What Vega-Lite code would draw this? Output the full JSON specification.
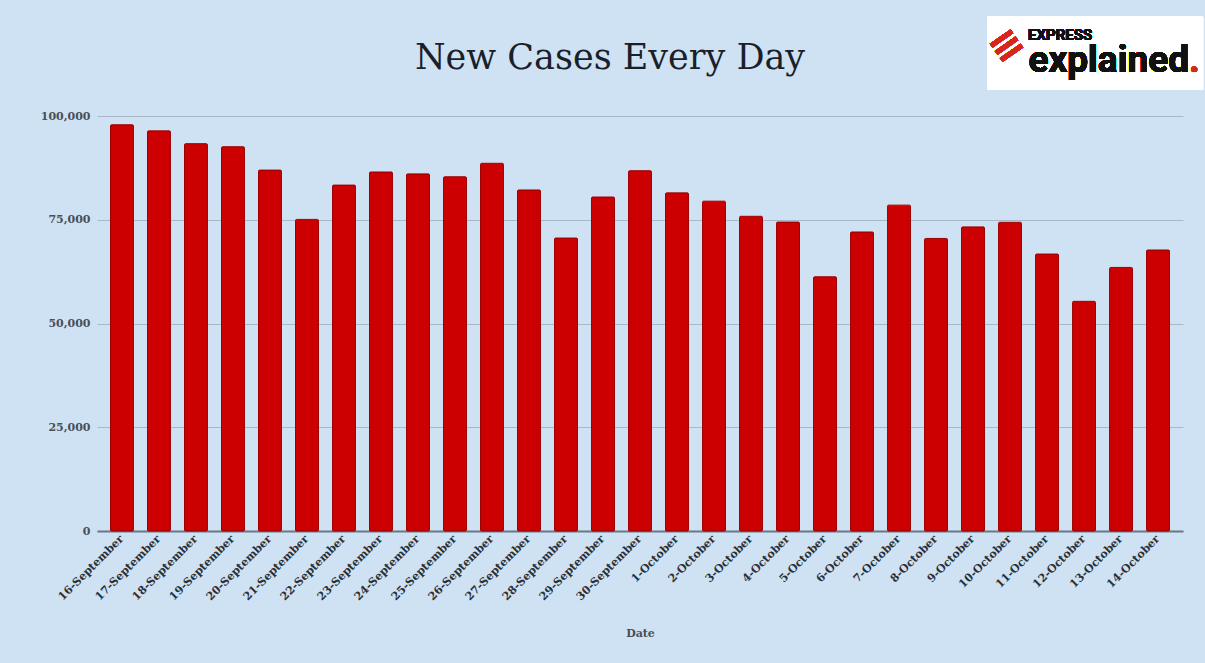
{
  "$schema": "https://vega.github.io/schema/vega-lite/v6.json",
  "autosize": {"type": "none"},
  "width": 1086,
  "height": 415,
  "padding": {"left": 97, "top": 116, "right": 22, "bottom": 132},
  "background": "#cfe2f3",
  "config": {
    "view": {"stroke": null},
    "font": "DejaVu Serif"
  },
  "title": {
    "text": "New Cases Every Day",
    "font": "DejaVu Serif",
    "fontSize": 35,
    "fontWeight": "normal",
    "color": "#1a1f2a",
    "anchor": "middle",
    "offset": 33,
    "dx": -30,
    "dy": 92
  },
  "data": {
    "values": [
      {"date": "16-September", "cases": 97894},
      {"date": "17-September", "cases": 96424},
      {"date": "18-September", "cases": 93337},
      {"date": "19-September", "cases": 92605},
      {"date": "20-September", "cases": 86961},
      {"date": "21-September", "cases": 75083},
      {"date": "22-September", "cases": 83347},
      {"date": "23-September", "cases": 86508},
      {"date": "24-September", "cases": 86052},
      {"date": "25-September", "cases": 85362},
      {"date": "26-September", "cases": 88600},
      {"date": "27-September", "cases": 82170},
      {"date": "28-September", "cases": 70589},
      {"date": "29-September", "cases": 80472},
      {"date": "30-September", "cases": 86821},
      {"date": "1-October", "cases": 81484},
      {"date": "2-October", "cases": 79476},
      {"date": "3-October", "cases": 75829},
      {"date": "4-October", "cases": 74442},
      {"date": "5-October", "cases": 61267},
      {"date": "6-October", "cases": 72049},
      {"date": "7-October", "cases": 78524},
      {"date": "8-October", "cases": 70496},
      {"date": "9-October", "cases": 73272},
      {"date": "10-October", "cases": 74383},
      {"date": "11-October", "cases": 66732},
      {"date": "12-October", "cases": 55342},
      {"date": "13-October", "cases": 63509},
      {"date": "14-October", "cases": 67708}
    ]
  },
  "encoding": {
    "x": {
      "field": "date",
      "type": "nominal",
      "sort": null,
      "scale": {"paddingInner": 0.38, "paddingOuter": 0.365},
      "axis": {
        "title": "Date",
        "titleFont": "DejaVu Serif",
        "titleFontSize": 11,
        "titleFontWeight": "bold",
        "titleColor": "#4a4f57",
        "titlePadding": 26,
        "labelAngle": -45,
        "labelAlign": "right",
        "labelBaseline": "middle",
        "labelFont": "DejaVu Serif",
        "labelFontSize": 11,
        "labelFontWeight": "bold",
        "labelColor": "#2b2f36",
        "labelPadding": 6,
        "ticks": false,
        "domainColor": "#6b7785",
        "domainWidth": 2,
        "grid": false
      }
    },
    "y": {
      "field": "cases",
      "type": "quantitative",
      "scale": {"domain": [0, 100000], "nice": false},
      "axis": {
        "title": null,
        "values": [0, 25000, 50000, 75000, 100000],
        "format": ",d",
        "labelFont": "DejaVu Serif",
        "labelFontSize": 11,
        "labelFontWeight": "bold",
        "labelColor": "#4a4f57",
        "labelPadding": 7,
        "ticks": false,
        "domain": false,
        "grid": true,
        "gridColor": "#a9b8c8",
        "gridWidth": 1.2
      }
    }
  },
  "layer": [
    {
      "mark": {"type": "bar", "color": "#cc0000", "stroke": "#9e0000", "strokeWidth": 1, "cornerRadius": 1}
    },
    {
      "mark": {
        "type": "point",
        "shape": "M-1.24,-0.338L0.76,-0.338L0.76,0.338L-1.24,0.338Z",
        "size": 46656,
        "filled": true,
        "color": "#ffffff",
        "opacity": 1,
        "strokeWidth": 0
      },
      "encoding": {
        "x": {"datum": "13-October"},
        "y": {"datum": 115100}
      }
    },
    {
      "mark": {"type": "text", "text": "≡", "font": "DejaVu Sans", "fontSize": 40, "fontWeight": "bold", "color": "#d7261e", "angle": -35, "align": "center", "baseline": "middle", "dx": -4},
      "encoding": {
        "x": {"datum": "10-October"},
        "y": {"datum": 117400}
      }
    },
    {
      "mark": {"type": "text", "text": "EXPRESS", "font": "Roboto", "fontSize": 15, "fontWeight": "bold", "color": "#111111", "align": "left", "baseline": "alphabetic", "dx": -130, "letterSpacing": -1.2},
      "encoding": {
        "x": {"datum": "14-October"},
        "y": {"datum": 118300}
      }
    },
    {
      "mark": {"type": "text", "text": "explained", "font": "Roboto", "fontSize": 37, "fontWeight": "bold", "color": "#111111", "align": "right", "baseline": "alphabetic", "dx": 31, "letterSpacing": -1},
      "encoding": {
        "x": {"datum": "14-October"},
        "y": {"datum": 110600}
      }
    },
    {
      "mark": {"type": "text", "text": ".", "font": "Roboto", "fontSize": 37, "fontWeight": "bold", "color": "#d7261e", "align": "left", "baseline": "alphabetic", "dx": 31},
      "encoding": {
        "x": {"datum": "14-October"},
        "y": {"datum": 110600}
      }
    }
  ]
}
